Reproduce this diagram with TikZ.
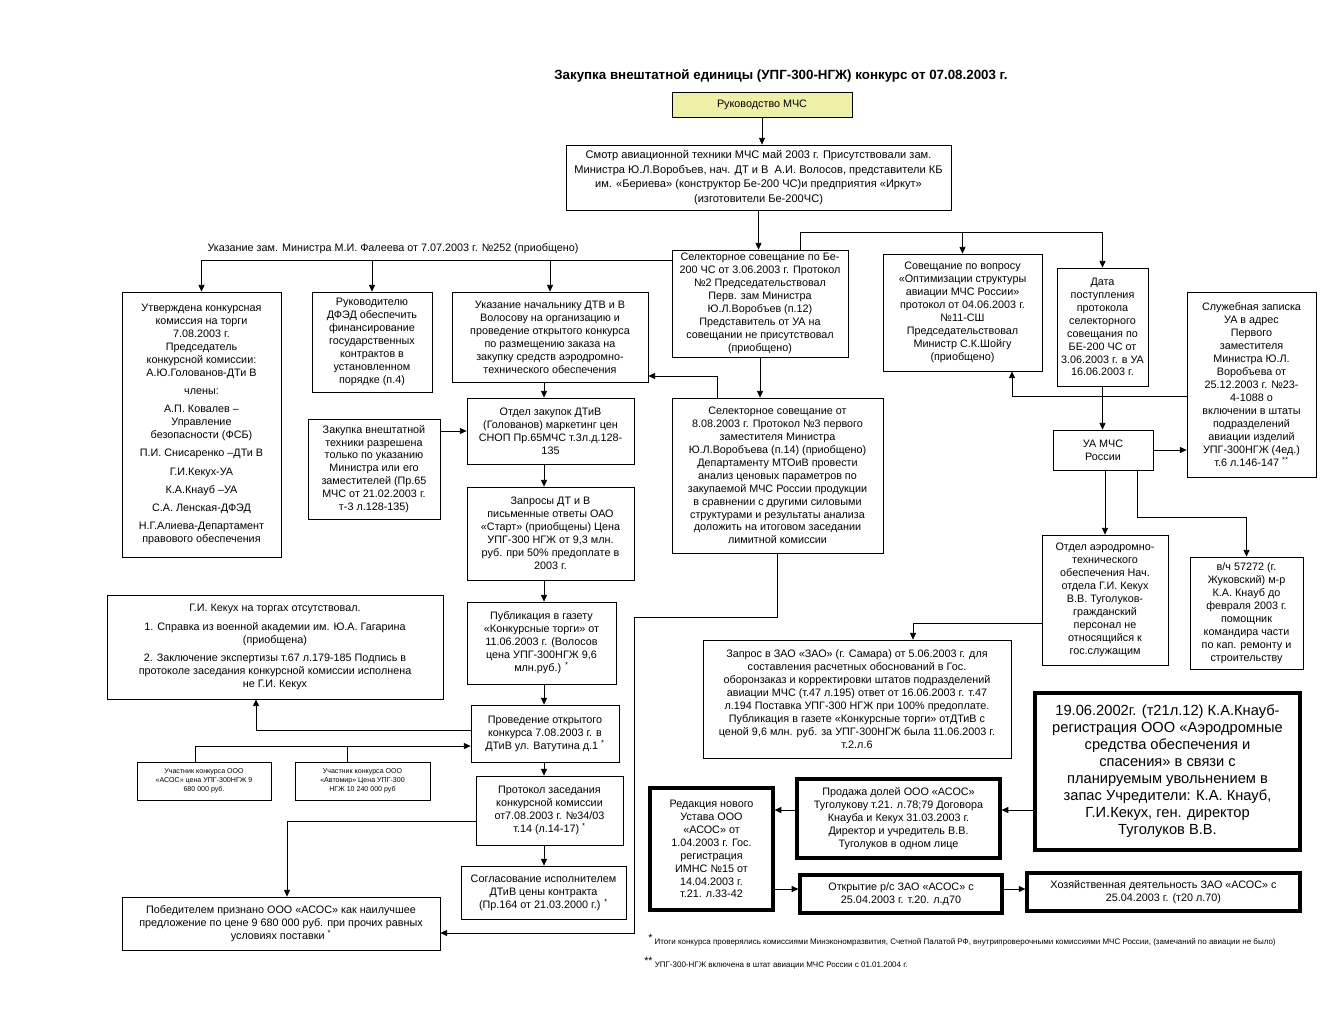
\documentclass[tikz,border=0pt]{standalone}
\usepackage{fontspec}
\setmainfont{Liberation Sans}
\usetikzlibrary{arrows.meta}
\definecolor{rukfill}{RGB}{238,240,168}

\begin{document}
\begin{tikzpicture}[x=0.75pt,y=-0.75pt,
        box/.style={draw,line width=0.6pt,align=center,inner sep=1pt,font=\fontsize{8.1}{9.7}\selectfont},
        bbox/.style={box,line width=2.4pt},
        tiny/.style={box,font=\fontsize{5.3}{6.6}\selectfont},
        arr/.style={line width=0.6pt,-{Triangle[length=5pt,width=4.5pt]}},
        ln/.style={line width=0.6pt}]
    \useasboundingbox (0,0) rectangle (1344,1008);

    \node[font=\bfseries\fontsize{10}{12}\selectfont] (title) at (781,76)
        {Закупка внештатной единицы (УПГ-300-НГЖ) конкурс от 07.08.2003 г.};

    % top of the tree
    \node[box,fill=rukfill,minimum width=135pt,minimum height=18.75pt] (ruk) at (762,104.5) {Руководство МЧС};
    \node[box,font=\fontsize{8.3}{11}\selectfont,minimum width=288.75pt,minimum height=48.75pt] (smotr) at (758.5,177.5)
        {Смотр авиационной техники МЧС май 2003 г. Присутствовали зам.\\
         Министра Ю.Л.Воробъев, нач. ДТ и В\ \ А.И. Волосов, представители КБ\\
         им. «Бериева» (конструктор Бе-200 ЧС)и предприятия «Иркут»\\
         (изготовители Бе-200ЧС)};
    \node[box,minimum width=132pt,minimum height=80.25pt] (sel1) at (760,303.5)
        {Селекторное совещание по Бе-\\200 ЧС от 3.06.2003 г. Протокол\\№2 Председательствовал\\
         Перв. зам Министра\\Ю.Л.Воробъев (п.12)\\Представитель от УА на\\совещании не присутствовал\\(приобщено)};
    \node[box,minimum width=119.25pt,minimum height=87.75pt] (sov) at (962.5,312.5)
        {Совещание по вопросу\\«Оптимизации структуры\\авиации МЧС России»\\протокол от 04.06.2003 г.\\
         №11-СШ\\Председательствовал\\Министр С.К.Шойгу\\(приобщено)};
    \node[box,minimum width=68.25pt,minimum height=88.5pt] (data) at (1102.5,327)
        {Дата\\поступления\\протокола\\селекторного\\совещания по\\БЕ-200 ЧС от\\3.06.2003 г. в УА\\16.06.2003 г.};
    \node[box,minimum width=96.75pt,minimum height=138.75pt] (sluzh) at (1251.5,384.5)
        {Служебная записка\\УА в адрес\\Первого\\заместителя\\Министра Ю.Л.\\Воробъева от\\25.12.2003 г. №23-\\
         4-1088 о\\включении в штаты\\подразделений\\авиации изделий\\УПГ-300НГЖ (4ед.)\\т.6 л.146-147 \textsuperscript{**}};
    \node[box,minimum width=75pt,minimum height=30pt] (ua) at (1103,450) {УА МЧС\\России};

    % left branch
    \node[font=\fontsize{8.1}{9.7}\selectfont] (ukazlbl) at (393,249)
        {Указание зам. Министра М.И. Фалеева от 7.07.2003 г. №252 (приобщено)};
    \node[box,minimum width=119.25pt,minimum height=198.75pt] (utv) at (201.5,424.5)
        {Утверждена конкурсная\\комиссия на торги\\7.08.2003 г.\\Председатель\\конкурсной комиссии:\\А.Ю.Голованов-ДТи В\\[4pt]
         члены:\\[4pt]А.П. Ковалев --\\Управление\\безопасности (ФСБ)\\[4pt]П.И. Снисаренко --ДТи В\\[4pt]
         Г.И.Кекух-УА\\[4pt]К.А.Кнауб --УА\\[4pt]С.А. Ленская-ДФЭД\\[4pt]Н.Г.Алиева-Департамент\\правового обеспечения};
    \node[box,minimum width=90pt,minimum height=75pt] (rukdfed) at (372,342)
        {Руководителю\\ДФЭД обеспечить\\финансирование\\государственных\\контрактов в\\установленном\\порядке (п.4)};
    \node[box,minimum width=147pt,minimum height=67.5pt] (ukaz) at (550,337)
        {Указание начальнику ДТВ и В\\Волосову на организацию и\\проведение открытого конкурса\\
         по размещению заказа на\\закупку средств аэродромно-\\технического обеспечения};
    \node[box,minimum width=125.25pt,minimum height=49.5pt] (otdel) at (550.5,431)
        {Отдел закупок ДТиВ\\(Голованов) маркетинг цен\\СНОП Пр.65МЧС т.3л.д.128-\\135};
    \node[box,minimum width=99pt,minimum height=75pt] (zakup) at (374,469)
        {Закупка внештатной\\техники разрешена\\только по указанию\\Министра или его\\заместителей (Пр.65\\
         МЧС от 21.02.2003 г.\\т-3 л.128-135)};
    \node[box,minimum width=125.25pt,minimum height=69.75pt] (zapros) at (550.5,533.5)
        {Запросы ДТ и В\\письменные ответы ОАО\\«Старт» (приобщены) Цена\\УПГ-300 НГЖ от 9,3 млн.\\
         руб. при 50\% предоплате в\\2003 г.};
    \node[box,minimum width=158.25pt,minimum height=116.25pt] (sel2) at (777.5,475.5)
        {Селекторное совещание от\\8.08.2003 г. Протокол №3 первого\\заместителя Министра\\
         Ю.Л.Воробъева (п.14) (приобщено)\\Департаменту МТОиВ провести\\анализ ценовых параметров по\\
         закупаемой МЧС России продукции\\в сравнении с другими силовыми\\структурами и результаты анализа\\
         доложить на итоговом заседании\\лимитной комиссии};
    \node[box,minimum width=252pt,minimum height=78pt] (kekuh) at (275,647)
        {Г.И. Кекух на торгах отсутствовал.\\[4pt]1. Справка из военной академии им. Ю.А. Гагарина\\(приобщена)\\[4pt]
         2. Заключение экспертизы т.67 л.179-185 Подпись в\\протоколе заседания конкурсной комиссии исполнена\\не Г.И. Кекух};
    \node[box,minimum width=111.75pt,minimum height=61.5pt] (publ) at (541.5,643)
        {Публикация в газету\\«Конкурсные торги» от\\11.06.2003 г. (Волосов\\цена УПГ-300НГЖ 9,6\\млн.руб.) \textsuperscript{*}};
    \node[box,minimum width=111pt,minimum height=42.75pt] (prov) at (545,733.5)
        {Проведение открытого\\конкурса 7.08.2003 г. в\\ДТиВ ул. Ватутина д.1 \textsuperscript{*}};
    \node[tiny,minimum width=100.5pt,minimum height=28.5pt] (uch1) at (204,781)
        {Участник конкурса ООО\\«АСОС» цена УПГ-300НГЖ 9\\680 000 руб.};
    \node[tiny,minimum width=101.25pt,minimum height=28.5pt] (uch2) at (362.5,781)
        {Участник конкурса ООО\\«Автомир» Цена УПГ-300\\НГЖ 10 240 000 руб};
    \node[box,minimum width=110.25pt,minimum height=51.75pt] (prot) at (549.5,810.5)
        {Протокол заседания\\конкурсной комиссии\\от7.08.2003 г. №34/03\\т.14 (л.14-17) \textsuperscript{*}};
    \node[box,minimum width=123.75pt,minimum height=39.75pt] (sogl) at (543.5,892.5)
        {Согласование исполнителем\\ДТиВ цены контракта\\(Пр.164 от 21.03.2000 г.) \textsuperscript{*}};
    \node[box,minimum width=238.5pt,minimum height=39.75pt] (pob) at (281,923.5)
        {Победителем признано ООО «АСОС» как наилучшее\\предложение по цене 9 680 000 руб. при прочих равных\\
         условиях поставки \textsuperscript{*}};

    % right branch
    \node[box,minimum width=94.5pt,minimum height=97.5pt] (otdaer) at (1105,600)
        {Отдел аэродромно-\\технического\\обеспечения Нач.\\отдела Г.И. Кекух\\В.В. Туголуков-\\гражданский\\
         персонал не\\относящийся к\\гос.служащим};
    \node[box,minimum width=84.75pt,minimum height=84pt] (vch) at (1246.5,613)
        {в/ч 57272 (г.\\Жуковский) м-р\\К.А. Кнауб до\\февраля 2003 г.\\помощник\\командира части\\
         по кап. ремонту и\\строительству};
    \node[box,minimum width=231pt,minimum height=88.5pt] (zao) at (857,699)
        {Запрос в ЗАО «ЗАО» (г. Самара) от 5.06.2003 г. для\\составления расчетных обоснований в Гос.\\
         оборонзаказ и корректировки штатов подразделений\\авиации МЧС (т.47 л.195) ответ от 16.06.2003 г. т.47\\
         л.194 Поставка УПГ-300 НГЖ при 100\% предоплате.\\Публикация в газете «Конкурсные торги» отДТиВ с\\
         ценой 9,6 млн. руб. за УПГ-300НГЖ была 11.06.2003 г.\\т.2.л.6};
    \node[bbox,font=\fontsize{11}{12.75}\selectfont,minimum width=198.75pt,minimum height=117.75pt] (reg) at (1167.5,771.5)
        {19.06.2002г. (т21л.12) К.А.Кнауб-\\регистрация ООО «Аэродромные\\средства обеспечения и\\спасения» в связи с\\
         планируемым увольнением в\\запас Учредители: К.А. Кнауб,\\Г.И.Кекух, ген. директор\\Туголуков В.В.};
    \node[bbox,minimum width=152.25pt,minimum height=59.25pt] (prod) at (898.5,818.5)
        {Продажа долей ООО «АСОС»\\Туголукову т.21. л.78;79 Договора\\Кнауба и Кекух 31.03.2003 г.\\
         Директор и учредитель В.В.\\Туголуков в одном лице};
    \node[bbox,minimum width=92.25pt,minimum height=91.5pt] (red) at (711.5,849)
        {Редакция нового\\Устава ООО\\«АСОС» от\\1.04.2003 г. Гос.\\регистрация\\ИМНС №15 от\\14.04.2003 г.\\т.21. л.33-42};
    \node[bbox,minimum width=151.5pt,minimum height=28.5pt] (otkr) at (901,894)
        {Открытие р/с ЗАО «АСОС» с\\25.04.2003 г. т.20. л.д70};
    \node[bbox,minimum width=204.75pt,minimum height=28.5pt] (hoz) at (1163.5,892)
        {Хозяйственная деятельность ЗАО «АСОС» с\\25.04.2003 г. (т20 л.70)};

    % footnotes
    \node[anchor=west,inner sep=0pt,font=\fontsize{6}{7}\selectfont] (note1) at (648,940)
        {\raisebox{2pt}{\fontsize{8}{8}\selectfont *} Итоги конкурса проверялись комиссиями Минэкономразвития, Счетной Палатой РФ, внутрипроверочными комиссиями МЧС России, (замечаний по авиации не было)};
    \node[anchor=west,inner sep=0pt,font=\fontsize{6}{7}\selectfont] (note2) at (644,963)
        {\raisebox{2pt}{\fontsize{8}{8}\selectfont **} УПГ-300-НГЖ включена в штат авиации МЧС России с 01.01.2004 г.};

    % junction points
    \coordinate (spl) at (800,232);
    \coordinate (lsp) at (672,260);
    \coordinate (mid) at (544,0);
    \coordinate (k1) at (717,376);
    \coordinate (b1) at (777,617);
    \coordinate (b2) at (634,933);
    \coordinate (k2) at (256,730);
    \coordinate (u0) at (195,746);
    \coordinate (u1) at (347,746);
    \coordinate (k3) at (287,821);
    \coordinate (k4) at (1012,396);
    \coordinate (k5) at (1137,517);
    \coordinate (k6) at (913,623);
    \coordinate (k7) at (0,810);
    \coordinate (k8) at (0,889);

    % connectors
    \draw[arr] (ruk.south) -- (ruk.south |- smotr.north);
    \draw[arr] (smotr.south) -- (smotr.south |- sel1.north);
    \draw[ln] (sel1.north -| spl) -- (spl) -- (data.north |- spl);
    \draw[arr] (sov.north |- spl) -- (sov.north);
    \draw[arr] (data.north |- spl) -- (data.north);
    \draw[ln] (lsp) -- (utv.north |- lsp);
    \draw[arr] (utv.north |- lsp) -- (utv.north);
    \draw[arr] (rukdfed.north |- lsp) -- (rukdfed.north);
    \draw[arr] (ukaz.north |- lsp) -- (ukaz.north);
    \draw[arr] (sel1.south) -- (sel1.south |- sel2.north);
    \draw[arr] (sel2.north -| k1) -- (k1) -- (k1 -| ukaz.east);
    \draw[arr] (ukaz.south -| mid) -- (otdel.north -| mid);
    \draw[arr] (zakup.east |- otdel) -- (otdel.west);
    \draw[arr] (otdel.south -| mid) -- (zapros.north -| mid);
    \draw[arr] (zapros.south -| mid) -- (publ.north -| mid);
    \draw[arr] (publ.south -| mid) -- (prov.north -| mid);
    \draw[arr] (prov.south -| mid) -- (prot.north -| mid);
    \draw[arr] (prot.south -| mid) -- (sogl.north -| mid);
    \draw[arr] (sel2.south -| b1) -- (b1) -| (b2) -- (b2 -| pob.east);
    \draw[arr] (prov.west |- k2) -- (k2) -- (k2 |- kekuh.south);
    \draw[arr] (uch1.north -| u0) -- (u0) -- (u0 -| prov.west);
    \draw[ln] (uch2.north -| u1) -- (u1);
    \draw[arr] (prot.west |- k3) -- (k3) -- (k3 |- pob.north);
    \draw[arr] (data.south) -- (data.south |- ua.north);
    \draw[arr] (ua.east) -- (ua.east -| sluzh.west);
    \draw[arr] (sluzh.west |- k4) -- (k4) -- (k4 |- sov.south);
    \draw[arr] (ua.south -| otdaer.north) -- (otdaer.north);
    \draw[arr] (ua.south -| k5) -- (k5) -| (vch.north);
    \draw[arr] (otdaer.west |- k6) -- (k6) -- (k6 |- zao.north);
    \draw[arr] (reg.west |- k7) -- (prod.east |- k7);
    \draw[arr] (prod.west |- k7) -- (red.east |- k7);
    \draw[arr] (red.east |- k8) -- (otkr.west |- k8);
    \draw[arr] (otkr.east |- k8) -- (hoz.west |- k8);
\end{tikzpicture}
\end{document}
